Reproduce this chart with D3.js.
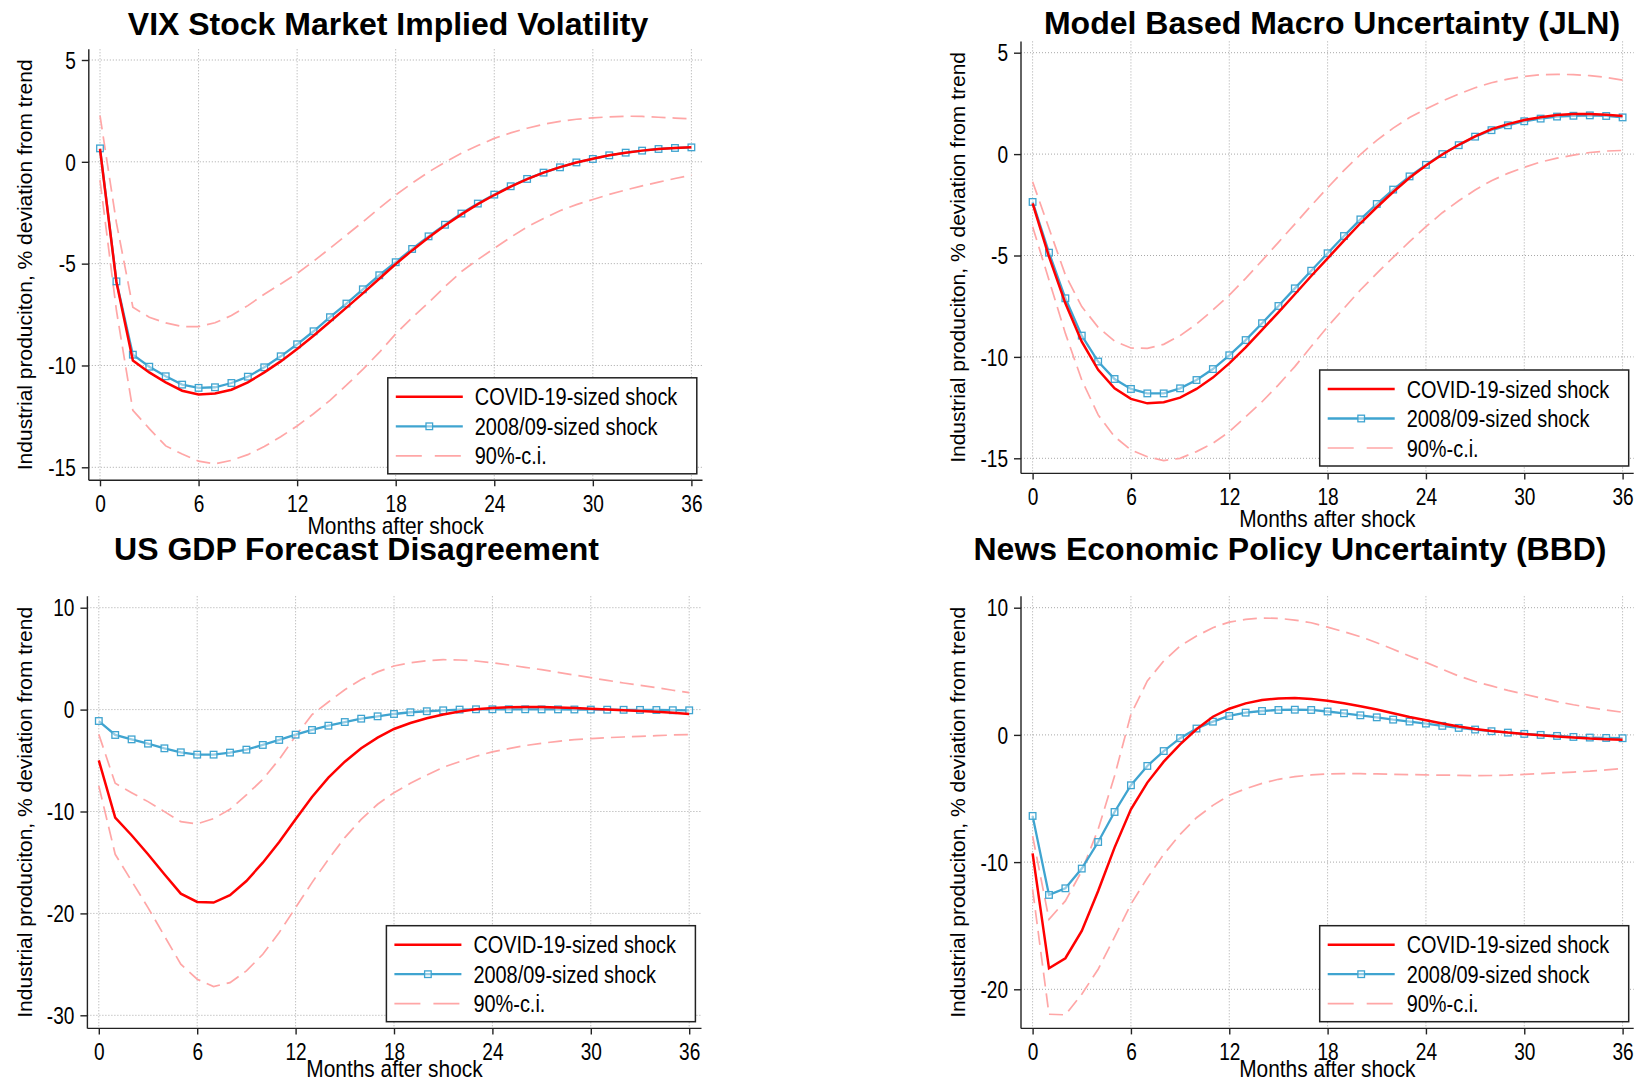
<!DOCTYPE html>
<html><head><meta charset="utf-8">
<script src="https://cdn.jsdelivr.net/npm/d3@7"></script>
<style>
html,body{margin:0;padding:0;background:#fff;}
svg{display:block;font-family:"Liberation Sans",Arial,Helvetica,sans-serif;}
</style>
</head><body>
<svg id="chart" width="1648" height="1082"></svg>
<script>
// ---------------- DATA ----------------
const months = [0,1,2,3,4,5,6,7,8,9,10,11,12,13,14,15,16,17,18,19,20,21,22,23,24,25,26,27,28,29,30,31,32,33,34,35,36];
const xTicks = [0,6,12,18,24,30,36];
const titles = ["VIX Stock Market Implied Volatility","Model Based Macro Uncertainty (JLN)","US GDP Forecast Disagreement","News Economic Policy Uncertainty (BBD)"];
const seriesNames = ["COVID-19-sized shock","2008/09-sized shock","90%-c.i."];
const xTitle = "Months after shock";
const yTitle = "Industrial produciton, % deviation from trend";
const yTicksTop = [5,0,-5,-10,-15];
const yTicksGdp = [10,0,-10,-20,-30];
const yTicksBbd = [10,0,-10,-20];

// VIX
const vixCovid = [0.63,-5.9,-9.76,-10.34,-10.83,-11.24,-11.42,-11.38,-11.19,-10.83,-10.34,-9.80,-9.19,-8.54,-7.85,-7.16,-6.46,-5.74,-5.02,-4.35,-3.72,-3.13,-2.58,-2.08,-1.63,-1.22,-0.85,-0.53,-0.26,-0.03,0.15,0.32,0.45,0.55,0.63,0.68,0.72];
const vixGfc = [0.66,-5.87,-9.47,-10.06,-10.53,-10.94,-11.10,-11.07,-10.86,-10.55,-10.09,-9.55,-8.96,-8.32,-7.63,-6.96,-6.26,-5.57,-4.93,-4.28,-3.66,-3.09,-2.54,-2.05,-1.61,-1.20,-0.84,-0.53,-0.27,-0.03,0.14,0.32,0.45,0.55,0.63,0.68,0.71];
const vixUpper = [2.27,-3.0,-7.14,-7.63,-7.91,-8.09,-8.09,-7.9,-7.55,-7.06,-6.5,-6.0,-5.48,-4.88,-4.25,-3.6,-2.95,-2.28,-1.63,-1.05,-0.5,-0.02,0.42,0.8,1.15,1.42,1.65,1.84,1.99,2.09,2.16,2.21,2.24,2.23,2.19,2.15,2.11];
const vixLower = [-0.9,-7.3,-12.2,-13.1,-13.95,-14.35,-14.7,-14.83,-14.66,-14.38,-13.98,-13.5,-12.97,-12.37,-11.71,-10.97,-10.19,-9.36,-8.45,-7.65,-6.91,-6.13,-5.39,-4.8,-4.25,-3.7,-3.2,-2.78,-2.4,-2.1,-1.85,-1.6,-1.38,-1.18,-1.0,-0.82,-0.65];

// JLN
const jlnCovid = [-2.43,-5.06,-7.36,-9.25,-10.64,-11.55,-12.07,-12.29,-12.24,-12.01,-11.58,-11.02,-10.32,-9.53,-8.67,-7.80,-6.91,-6.01,-5.14,-4.27,-3.41,-2.62,-1.87,-1.17,-0.56,-0.02,0.46,0.87,1.23,1.48,1.68,1.82,1.93,1.98,1.98,1.94,1.88];
const jlnGfc = [-2.36,-4.86,-7.11,-8.95,-10.23,-11.09,-11.58,-11.80,-11.80,-11.55,-11.14,-10.60,-9.92,-9.17,-8.34,-7.49,-6.62,-5.75,-4.89,-4.04,-3.22,-2.46,-1.75,-1.10,-0.53,0.0,0.44,0.86,1.18,1.42,1.62,1.75,1.85,1.89,1.91,1.88,1.81];
const jlnUpper = [-1.36,-3.66,-5.96,-7.52,-8.54,-9.22,-9.56,-9.58,-9.38,-8.95,-8.38,-7.69,-6.95,-6.13,-5.25,-4.35,-3.45,-2.54,-1.66,-0.8,-0.02,0.68,1.28,1.8,2.22,2.62,2.96,3.27,3.52,3.70,3.83,3.92,3.93,3.92,3.87,3.78,3.65];
const jlnLower = [-3.58,-6.21,-8.84,-11.14,-12.86,-13.93,-14.59,-14.92,-15.11,-15.0,-14.67,-14.26,-13.69,-12.95,-12.21,-11.38,-10.48,-9.49,-8.51,-7.60,-6.70,-5.88,-5.09,-4.32,-3.58,-2.89,-2.30,-1.77,-1.31,-0.95,-0.65,-0.39,-0.20,-0.05,0.08,0.15,0.18];

// GDP disagreement
const gdpCovid = [-4.98,-10.60,-12.33,-14.20,-16.16,-18.06,-18.88,-18.94,-18.22,-16.82,-15.02,-12.99,-10.77,-8.57,-6.68,-5.11,-3.80,-2.75,-1.9,-1.32,-0.85,-0.48,-0.18,0.03,0.15,0.22,0.25,0.25,0.21,0.15,0.08,0.01,-0.06,-0.13,-0.22,-0.32,-0.43];
const gdpGfc = [-1.12,-2.49,-2.92,-3.34,-3.80,-4.19,-4.42,-4.42,-4.22,-3.93,-3.47,-2.98,-2.46,-2.0,-1.58,-1.22,-0.89,-0.66,-0.43,-0.26,-0.16,-0.07,0.0,0.03,0.03,0.03,0.03,0.02,0.02,0.01,0.0,-0.01,-0.02,-0.03,-0.04,-0.06,-0.07];
const gdpUpper = [-2.43,-7.23,-8.15,-9.03,-10.01,-11.0,-11.22,-10.70,-9.78,-8.38,-6.84,-4.88,-2.59,-0.5,0.75,1.95,2.95,3.7,4.28,4.60,4.80,4.90,4.87,4.77,4.60,4.38,4.15,3.92,3.66,3.39,3.13,2.87,2.61,2.38,2.16,1.90,1.67];
const gdpLower = [-7.49,-14.20,-16.82,-19.43,-22.21,-24.99,-26.46,-27.18,-26.79,-25.64,-24.01,-21.88,-19.43,-16.98,-14.69,-12.56,-10.77,-9.29,-8.15,-7.23,-6.42,-5.66,-5.11,-4.58,-4.15,-3.83,-3.53,-3.31,-3.11,-2.95,-2.85,-2.75,-2.69,-2.62,-2.56,-2.49,-2.46];

// BBD
const bbdCovid = [-9.31,-18.35,-17.56,-15.41,-12.27,-8.86,-5.85,-3.75,-2.10,-0.74,0.44,1.43,2.06,2.48,2.74,2.87,2.90,2.82,2.68,2.49,2.25,1.99,1.70,1.41,1.15,0.89,0.66,0.47,0.31,0.18,0.08,-0.03,-0.13,-0.21,-0.29,-0.34,-0.39];
const bbdGfc = [-6.37,-12.58,-12.06,-10.51,-8.42,-6.06,-3.96,-2.44,-1.27,-0.26,0.50,1.04,1.49,1.75,1.88,1.96,1.98,1.96,1.84,1.70,1.54,1.38,1.20,1.05,0.89,0.71,0.55,0.42,0.29,0.18,0.08,0.0,-0.08,-0.16,-0.21,-0.24,-0.26];
const bbdUpper = [-7.95,-14.50,-13.05,-10.70,-7.42,-3.23,1.62,4.24,5.81,6.99,7.77,8.43,8.87,9.08,9.19,9.16,9.03,8.82,8.47,8.11,7.72,7.25,6.73,6.20,5.70,5.16,4.63,4.2,3.85,3.5,3.2,2.9,2.62,2.37,2.15,1.95,1.78];
const bbdLower = [-12.14,-21.96,-22.01,-20.39,-18.42,-15.9,-13.3,-11.25,-9.39,-7.82,-6.51,-5.54,-4.75,-4.23,-3.81,-3.49,-3.28,-3.15,-3.07,-3.05,-3.05,-3.07,-3.10,-3.12,-3.15,-3.16,-3.18,-3.20,-3.19,-3.17,-3.10,-3.05,-2.98,-2.92,-2.85,-2.75,-2.65];

// ---------------- STYLE / LAYOUT ----------------
const COL_RED = "#ff0000", COL_BLUE = "#3fa4d0", COL_CI = "#ffa6a6";
const SX = 0.83;   // horizontal squeeze of the condensed labels
const panels = [
  {title:titles[0], covid:vixCovid, gfc:vixGfc, upper:vixUpper, lower:vixLower, yTicks:yTicksTop,
   L:{ax:88.8, top:49.3, bot:480.3, right:702.5, x0:100, x1:691.4, yv:[5,-15], yp:[60,467.3], tx:388, ty:34.5, ytx:32, lg:[387.8,377.8]}},
  {title:titles[1], covid:jlnCovid, gfc:jlnGfc, upper:jlnUpper, lower:jlnLower, yTicks:yTicksTop,
   L:{ax:1021, top:41.4, bot:473.4, right:1633.7, x0:1032.6, x1:1622.6, yv:[5,-15], yp:[52.7,458.3], tx:1332, ty:33.8, ytx:965, lg:[1319.7,370]}},
  {title:titles[2], covid:gdpCovid, gfc:gdpGfc, upper:gdpUpper, lower:gdpLower, yTicks:yTicksGdp,
   L:{ax:87.4, top:596.3, bot:1028.4, right:701.5, x0:98.8, x1:689.2, yv:[10,-30], yp:[607.7,1015.3], tx:356.5, ty:560, ytx:32, lg:[386.4,925.7]}},
  {title:titles[3], covid:bbdCovid, gfc:bbdGfc, upper:bbdUpper, lower:bbdLower, yTicks:yTicksBbd,
   L:{ax:1021, top:596.3, bot:1028.4, right:1633.7, x0:1032.6, x1:1622.6, yv:[10,-20], yp:[607.7,989.3], tx:1290, ty:560, ytx:965, lg:[1319.7,925.7]}}
];

const svg = d3.select("#chart");
svg.append("rect").attr("width",1648).attr("height",1082).attr("fill","#fff");

panels.forEach(p => {
  const L = p.L;
  const g = svg.append("g");
  const x = d3.scaleLinear().domain([0,36]).range([L.x0, L.x1]);
  const y = d3.scaleLinear().domain(L.yv).range(L.yp);

  // grid
  g.append("g").selectAll("line").data(p.yTicks).join("line")
    .attr("x1", L.ax).attr("x2", L.right).attr("y1", d=>y(d)).attr("y2", d=>y(d))
    .attr("stroke","#a8a8a8").attr("stroke-width",1).attr("stroke-dasharray","1,2");
  g.append("g").selectAll("line").data(xTicks).join("line")
    .attr("y1", L.top).attr("y2", L.bot).attr("x1", d=>x(d)).attr("x2", d=>x(d))
    .attr("stroke","#a8a8a8").attr("stroke-width",1).attr("stroke-dasharray","1,2");

  // axes
  const yAxis = d3.axisLeft(y).tickValues(p.yTicks).tickSize(7).tickPadding(6).tickFormat(d => String(d));
  const ya = g.append("g").attr("transform",`translate(${L.ax},0)`).call(yAxis);
  ya.select(".domain").remove();
  ya.append("line").attr("x1",0).attr("x2",0).attr("y1",L.top).attr("y2",L.bot);
  const xAxis = d3.axisBottom(x).tickValues(xTicks).tickSize(6).tickPadding(6).tickFormat(d => String(d));
  const xa = g.append("g").attr("transform",`translate(0,${L.bot})`).call(xAxis);
  xa.select(".domain").remove();
  xa.append("line").attr("x1",L.ax).attr("x2",L.right).attr("y1",0).attr("y2",0);
  [ya, xa].forEach(a => {
    a.attr("font-family",null).attr("font-size",null);
    a.selectAll("line").attr("stroke","#222").attr("stroke-width",1.4);
    a.selectAll("text").attr("font-size",23).attr("fill","#000");
  });
  xa.selectAll(".tick text").attr("dy",null).attr("y",31.5).attr("x",0).attr("transform",`scale(${SX},1)`);
  ya.selectAll(".tick text").attr("dy","0.36em").attr("x",-13/SX).attr("transform",`scale(${SX},1)`);

  // CI
  const line = d3.line().x((d,i)=>x(months[i])).y(d=>y(d));
  [p.upper, p.lower].forEach(s => {
    g.append("path").attr("d", line(s)).attr("fill","none").attr("stroke",COL_CI)
      .attr("stroke-width",1.7).attr("stroke-dasharray","14,7");
  });
  // 2008/09
  g.append("path").attr("d", line(p.gfc)).attr("fill","none").attr("stroke",COL_BLUE).attr("stroke-width",2.3);
  g.append("g").selectAll("rect").data(p.gfc).join("rect")
    .attr("x",(d,i)=>x(months[i])-3.3).attr("y",d=>y(d)-3.3).attr("width",6.6).attr("height",6.6)
    .attr("fill","rgba(255,255,255,0.45)").attr("stroke",COL_BLUE).attr("stroke-width",1.3);
  // COVID
  g.append("path").attr("d", line(p.covid)).attr("fill","none").attr("stroke",COL_RED).attr("stroke-width",2.5);

  // titles
  g.append("text").attr("x",L.tx).attr("y",L.ty).attr("text-anchor","middle")
    .attr("font-size",32).attr("font-weight","bold").attr("fill","#000").text(p.title);
  g.append("text").attr("transform",`translate(${(L.ax+L.right)/2},${Math.min(L.bot+53.5,1077)}) scale(0.87,1)`)
    .attr("text-anchor","middle").attr("font-size",24).attr("fill","#000").text(xTitle);
  g.append("text").attr("transform",`translate(${L.ytx},${(L.top+L.bot)/2}) rotate(-90)`)
    .attr("text-anchor","middle").attr("font-size",21).attr("fill","#000").text(yTitle);

  // legend
  const [lx, ly] = L.lg;
  const lgG = g.append("g").attr("transform",`translate(${lx},${ly})`);
  lgG.append("rect").attr("width",309).attr("height",96).attr("fill","#fff").attr("stroke","#222").attr("stroke-width",1.5);
  const rows = [19, 48.5, 78];
  lgG.append("line").attr("x1",8).attr("x2",75).attr("y1",rows[0]).attr("y2",rows[0]).attr("stroke",COL_RED).attr("stroke-width",2.5);
  lgG.append("line").attr("x1",8).attr("x2",75).attr("y1",rows[1]).attr("y2",rows[1]).attr("stroke",COL_BLUE).attr("stroke-width",2.3);
  lgG.append("rect").attr("x",41.5-3.3).attr("y",rows[1]-3.3).attr("width",6.6).attr("height",6.6)
    .attr("fill","rgba(255,255,255,0.45)").attr("stroke",COL_BLUE).attr("stroke-width",1.3);
  lgG.append("line").attr("x1",8).attr("x2",75).attr("y1",rows[2]).attr("y2",rows[2]).attr("stroke",COL_CI)
    .attr("stroke-width",1.7).attr("stroke-dasharray","26,13");
  seriesNames.forEach((n,i) => {
    lgG.append("text").attr("transform",`translate(87,${rows[i]}) scale(0.83,1)`)
      .attr("dy","0.36em").attr("font-size",24).attr("fill","#000").text(n);
  });
});
</script>
</body></html>
